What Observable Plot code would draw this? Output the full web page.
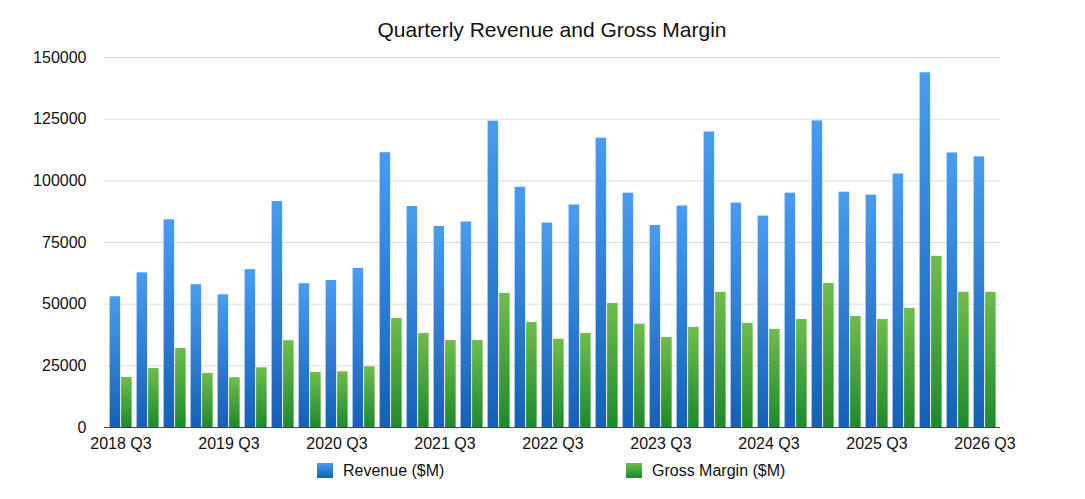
<!DOCTYPE html>
<html>
<head>
<meta charset="utf-8">
<script src="https://cdn.jsdelivr.net/npm/d3@7"></script>
<script src="https://cdn.jsdelivr.net/npm/@observablehq/plot@0.6"></script>
<style>
  body { margin: 0; background: #fff; font-family: "Liberation Sans", Arial, Helvetica, sans-serif; color: #111; }
  #wrap { position: relative; width: 1085px; height: 499px; }
  #title { height: 44px; box-sizing: border-box; padding-top: 19px; padding-left: 19px; width: 1085px; text-align: center; font-size: 21px; line-height: 21px; }
  #legend { position: relative; height: 44px; }
  .sw { position: absolute; top: 8px; width: 16px; height: 15px; }
  .lt { position: absolute; top: 8px; font-size: 16px; line-height: 16px; white-space: nowrap; }
</style>
</head>
<body>
<div id="wrap">
  <div id="title">Quarterly Revenue and Gross Margin</div>
  <div id="chart"></div>
  <div id="legend">
    <div class="sw" style="left:317px;background:linear-gradient(#4a9cf0,#1560b8)"></div>
    <div class="lt" style="left:343px">Revenue ($M)</div>
    <div class="sw" style="left:626px;background:linear-gradient(#70bc4c,#1e8a2c)"></div>
    <div class="lt" style="left:652px">Gross Margin ($M)</div>
  </div>
</div>
<script>
const quarters = [
  "2018 Q3","2018 Q4","2019 Q1","2019 Q2","2019 Q3","2019 Q4","2020 Q1","2020 Q2",
  "2020 Q3","2020 Q4","2021 Q1","2021 Q2","2021 Q3","2021 Q4","2022 Q1","2022 Q2",
  "2022 Q3","2022 Q4","2023 Q1","2023 Q2","2023 Q3","2023 Q4","2024 Q1","2024 Q2",
  "2024 Q3","2024 Q4","2025 Q1","2025 Q2","2025 Q3","2025 Q4","2026 Q1","2026 Q2","2026 Q3"
];
const revenue = [
  53000, 62700, 84200, 57900, 53800, 64000, 91600, 58300,
  59600, 64500, 111400, 89600, 81500, 83300, 124200, 97400,
  82900, 90200, 117300, 95000, 81900, 89800, 119800, 91000,
  85700, 95000, 124300, 95400, 94200, 102800, 143800, 111300, 109700
];
const margin = [
  20300, 23900, 32000, 21900, 20200, 24200, 35200, 22300,
  22600, 24600, 44200, 38100, 35300, 35300, 54400, 42600,
  35800, 38100, 50300, 41900, 36500, 40600, 54800, 42200,
  39800, 43800, 58400, 45000, 43800, 48300, 69400, 54800, 54800
];
const xTickLabels = ["2018 Q3","2019 Q3","2020 Q3","2021 Q3","2022 Q3","2023 Q3","2024 Q3","2025 Q3","2026 Q3"];
const yTicks = [0, 25000, 50000, 75000, 100000, 125000, 150000];

const data = quarters.map((q, i) => ({quarter: q, revenue: revenue[i], margin: margin[i]}));

const defs = () => {
  const ns = "http://www.w3.org/2000/svg";
  const d = document.createElementNS(ns, "defs");
  const mk = (id, c1, c2) => {
    const g = document.createElementNS(ns, "linearGradient");
    g.setAttribute("id", id);
    g.setAttribute("x1", "0"); g.setAttribute("y1", "0");
    g.setAttribute("x2", "0"); g.setAttribute("y2", "1");
    [[0, c1], [1, c2]].forEach(([o, c]) => {
      const s = document.createElementNS(ns, "stop");
      s.setAttribute("offset", o);
      s.setAttribute("stop-color", c);
      g.appendChild(s);
    });
    d.appendChild(g);
  };
  mk("gRev", "#4a9cf0", "#1560b8");
  mk("gMar", "#70bc4c", "#1e8a2c");
  return d;
};

const chart = Plot.plot({
  width: 1085,
  height: 411,
  marginLeft: 104,
  marginRight: 85,
  marginTop: 13,
  marginBottom: 28,
  style: {fontFamily: "Liberation Sans, Arial, sans-serif", fontSize: "16px", color: "#111", background: "#fff"},
  x: {domain: quarters, padding: 0, label: null},
  y: {domain: [0, 150000], label: null},
  marks: [
    defs,
    Plot.gridY(yTicks, {stroke: "#dcdcdc", strokeOpacity: 1, strokeWidth: 1}),
    Plot.barY(data, {x: "quarter", y: "revenue", fill: "url(#gRev)", insetLeft: 2.6, insetRight: 13.85}),
    Plot.barY(data, {x: "quarter", y: "margin", fill: "url(#gMar)", insetLeft: 14.1, insetRight: 2.35}),
    Plot.ruleY([0], {stroke: "#444", strokeWidth: 1.2}),
    Plot.axisY(yTicks, {tickSize: 0, tickPadding: 18, tickFormat: d => String(d), fontSize: 16, label: null}),
    Plot.axisX(xTickLabels, {tickSize: 0, tickPadding: 10, fontSize: 16, label: null})
  ]
});
document.getElementById("chart").appendChild(chart);
</script>
</body>
</html>
